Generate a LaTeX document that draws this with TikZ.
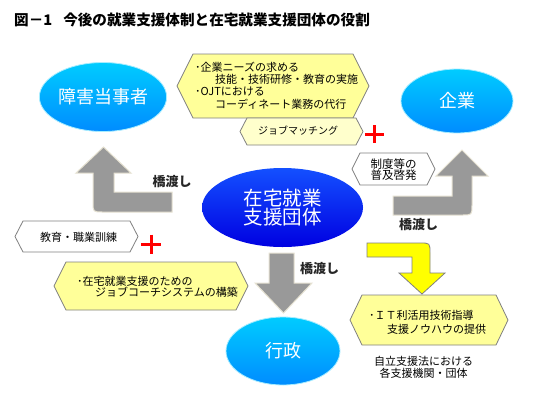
\documentclass[tikz,border=0pt]{standalone}
\usepackage{fontspec}
\setmainfont{Noto Sans CJK JP}
\usetikzlibrary{shapes.geometric}
\definecolor{hexyel}{RGB}{255,255,153}
\definecolor{hexpale}{RGB}{255,255,204}
\definecolor{hexline}{RGB}{128,128,128}
\definecolor{arrgray}{RGB}{153,153,153}
\definecolor{arredge}{RGB}{230,226,210}
\definecolor{skytop}{RGB}{0,204,255}
\definecolor{skybot}{RGB}{0,140,255}
\definecolor{deeptop}{RGB}{20,80,255}
\definecolor{deepbot}{RGB}{0,0,225}
\definecolor{arryel}{RGB}{255,255,0}
\definecolor{plusred}{RGB}{255,0,0}
\newcommand\hexpath[6]{\path[#1] (#2-#4,#3) -- (#2-#4+#6,#3-#5) -- (#2+#4-#6,#3-#5) -- (#2+#4,#3) -- (#2+#4-#6,#3+#5) -- (#2-#4+#6,#3+#5) -- cycle;}
\tikzset{
  skyell/.style={ellipse, shading=axis, top color=skytop, bottom color=skybot, draw=skytop!35, line width=0.8pt, text=white, inner sep=0pt, font=\fontsize{18}{20}\selectfont},
  deepell/.style={ellipse, shading=axis, top color=deeptop, bottom color=deepbot, text=white, inner sep=0pt, align=center, font=\fontsize{19.5}{17.5}\selectfont},
  grayarrow/.style={fill=arrgray, draw=arredge, line width=1pt},
  yelarrow/.style={fill=arryel, draw=hexline, line width=0.8pt},
  hexyellow/.style={fill=hexyel, draw=hexline, line width=0.8pt},
  hexlight/.style={fill=hexpale, draw=hexline, line width=0.8pt},
  hexwhite/.style={fill=white, draw=hexline, line width=0.8pt},
  hextext/.style={inner sep=0pt, align=left, font=\fontsize{11}{12.2}\selectfont},
  ctext/.style={inner sep=0pt, align=center, font=\fontsize{11}{11.5}\selectfont},
  bridge/.style={inner sep=0pt, font=\fontsize{13}{15}\selectfont\bfseries, text=black!85},
  plusmark/.style={draw=plusred, line width=3pt}
}
\begin{document}
\begin{tikzpicture}[x=1pt,y=-1pt]
\useasboundingbox (0,0) rectangle (560,400);
\fill[white] (0,0) rectangle (560,400);

% title
\node[anchor=west, inner sep=0pt, font=\fontsize{14.6}{16}\selectfont\bfseries] (title) at (14,20) {図－1\hspace{11pt}今後の就業支援体制と在宅就業支援団体の役割};

% block arrows
\path[grayarrow] (103.5,147) -- (131,173) -- (114,173) -- (114,192) -- (172,192) -- (172,212) -- (103,212) .. controls (93,212) .. (93,202) -- (93,173) -- (76,173) -- cycle;
\path[grayarrow] (462,150) -- (488,176) -- (472,176) -- (472,205) .. controls (472,215) .. (462,215) -- (393,215) -- (393,196) -- (452,196) -- (452,176) -- (436,176) -- cycle;
\path[grayarrow] (269,253) -- (294,253) -- (294,283) -- (312,283) -- (283.5,313) -- (255,283) -- (269,283) -- cycle;
\path[yelarrow] (367,243) -- (420,243) .. controls (430,243) .. (430,253) -- (430,273) -- (445,273) -- (422,294) -- (399,273) -- (412,273) -- (412,257) -- (367,257) -- cycle;

% ellipses
\node[skyell, minimum width=120pt, minimum height=69pt] (sho) at (103,97) {障害当事者};
\node[skyell, minimum width=112pt, minimum height=64pt] (kig) at (457,101) {企業};
\node[skyell, minimum width=114pt, minimum height=68pt] (gyo) at (283,351) {行政};
\node[deepell, minimum width=161pt, minimum height=79pt] (zai) at (282.5,207.5) {在宅就業\\支援団体};

% hexagons
\hexpath{hexyellow}{273}{86}{96}{32}{16}
\hexpath{hexlight}{301.5}{131.5}{61.5}{13.5}{7}
\hexpath{hexwhite}{393.5}{169}{41.5}{16}{8}
\hexpath{hexwhite}{76.5}{236.5}{61.5}{15.5}{8}
\hexpath{hexyellow}{151}{286}{97}{24}{12}
\hexpath{hexyellow}{429}{320}{79}{25}{12}

% texts
\node[hextext, anchor=west] (needs) at (195,85.5) {･企業ニーズの求める\\\hspace*{20pt}技能・技術研修・教育の実施\\･OJTにおける\\\hspace*{20pt}コーディネート業務の代行};
\node[inner sep=0pt, font=\fontsize{10}{12}\selectfont] (match) at (298,131) {ジョブマッチング};
\node[ctext, font=\fontsize{11.5}{11.5}\selectfont] (seido) at (393.5,169.5) {制度等の\\普及啓発};
\node[inner sep=0pt, font=\fontsize{11}{12}\selectfont] (kyoiku) at (78.5,237) {教育・職業訓練};
\node[hextext, anchor=west, font=\fontsize{11}{11.2}\selectfont] (coach) at (77,287) {･在宅就業支援のための\\\hspace*{18pt}ジョブコーチシステムの構築};
\node[hextext, anchor=west, font=\fontsize{11}{14}\selectfont] (it) at (369,322) {･ＩＴ利活用技術指導\\\hspace*{18pt}支援ノウハウの提供};
\node[ctext] (note) at (423.5,367.5) {自立支援法における\\各支援機関・団体};

% bridge labels
\node[bridge] (b1) at (172,181.5) {橋渡し};
\node[bridge] (b2) at (418.5,224.5) {橋渡し};
\node[bridge] (b3) at (319.5,269) {橋渡し};

% plus marks
\draw[plusmark] (365,134) -- (384,134) (374.5,125) -- (374.5,143);
\draw[plusmark] (141,244) -- (161,244) (151,234.5) -- (151,253.5);
\end{tikzpicture}
\end{document}
